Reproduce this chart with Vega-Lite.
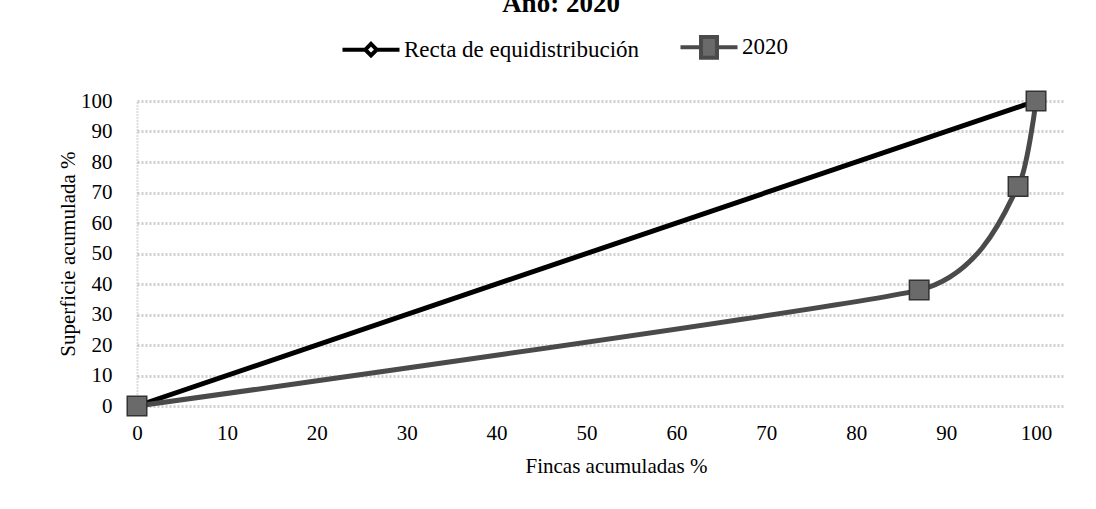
{
  "$schema": "https://vega.github.io/schema/vega-lite/v6.json",
  "autosize": "none",
  "width": 926,
  "height": 305,
  "padding": {"left": 137, "top": 101, "right": 33, "bottom": 103},
  "background": "white",
  "config": {
    "font": "Liberation Serif",
    "view": {"stroke": null}
  },
  "title": {
    "text": "Año: 2020",
    "font": "Liberation Serif",
    "fontSize": 27,
    "fontWeight": "bold",
    "color": "black",
    "anchor": "middle",
    "dx": -39,
    "dy": 10,
    "offset": 8
  },
  "data": {
    "values": [
      {"serie": "Recta de equidistribución", "fincas": 0, "superficie": 0},
      {"serie": "Recta de equidistribución", "fincas": 100, "superficie": 100},
      {"serie": "2020", "fincas": 0, "superficie": 0},
      {"serie": "2020", "fincas": 87, "superficie": 38},
      {"serie": "2020", "fincas": 98, "superficie": 72},
      {"serie": "2020", "fincas": 100, "superficie": 100}
    ]
  },
  "encoding": {
    "x": {
      "field": "fincas",
      "type": "quantitative",
      "scale": {"domain": [0, 103], "nice": false, "zero": false},
      "axis": {
        "values": [0, 10, 20, 30, 40, 50, 60, 70, 80, 90, 100],
        "title": "Fincas acumuladas %",
        "titleFont": "Liberation Serif",
        "titleFontSize": 21,
        "titleFontWeight": "normal",
        "titleColor": "black",
        "titleX": 479,
        "titlePadding": 12,
        "labelFont": "Liberation Serif",
        "labelFontSize": 21,
        "labelColor": "black",
        "labelPadding": 16,
        "labelFlush": false,
        "ticks": false,
        "domain": false,
        "grid": false
      }
    },
    "y": {
      "field": "superficie",
      "type": "quantitative",
      "scale": {"domain": [0, 100], "nice": false},
      "axis": {
        "values": [0, 10, 20, 30, 40, 50, 60, 70, 80, 90, 100],
        "title": "Superficie acumulada %",
        "titleFont": "Liberation Serif",
        "titleFontSize": 21,
        "titleFontWeight": "normal",
        "titleColor": "black",
        "titlePadding": 2,
        "labelFont": "Liberation Serif",
        "labelFontSize": 21,
        "labelColor": "black",
        "labelPadding": 25,
        "labelFlush": false,
        "ticks": false,
        "domain": true,
        "domainColor": "#bbbbbb",
        "domainDash": [1, 2],
        "domainWidth": 2,
        "grid": true,
        "gridColor": "#cfcfcf",
        "gridDash": [2, 2],
        "gridWidth": 3
      }
    }
  },
  "layer": [
    {
      "mark": {"type": "line", "strokeWidth": 5, "interpolate": "cardinal", "tension": 0.55, "clip": false},
      "encoding": {
        "color": {
          "field": "serie",
          "type": "nominal",
          "scale": {"domain": ["Recta de equidistribución", "2020"], "range": ["#000000", "#4a4a4a"]},
          "legend": {
            "title": null,
            "orient": "none",
            "direction": "horizontal",
            "legendX": 203,
            "legendY": -85,
            "labelFont": "Liberation Serif",
            "labelFontSize": 23,
            "labelColor": "black",
            "labelLimit": 400,
            "labelOffset": 2,
            "columnPadding": 32,
            "symbolSize": 3250,
            "symbolStrokeWidth": 4,
            "encode": {
              "symbols": {
                "update": {
                  "shape": {"signal": "datum.value == '2020' ? 'M-1,0H-0.28M0.28,0H1M-0.28,-0.36H0.28V0.36H-0.28Z' : 'M-1,0H-0.22M0.22,0H1M0,-0.2L0.2,0L0,0.2L-0.2,0Z'"},
                  "fill": {"signal": "datum.value == '2020' ? '#6a6a6a' : '#ffffff'"},
                  "stroke": {"signal": "datum.value == '2020' ? '#4a4a4a' : '#000000'"},
                  "strokeWidth": {"value": 4}
                }
              }
            }
          }
        },
        "order": {"field": "fincas", "type": "quantitative"}
      }
    },
    {
      "transform": [{"filter": "datum.serie == '2020'"}],
      "mark": {"type": "point", "shape": "square", "filled": true, "size": 380, "fill": "#6a6a6a", "stroke": "#333333", "strokeWidth": 1.5, "opacity": 1, "clip": false}
    }
  ]
}
